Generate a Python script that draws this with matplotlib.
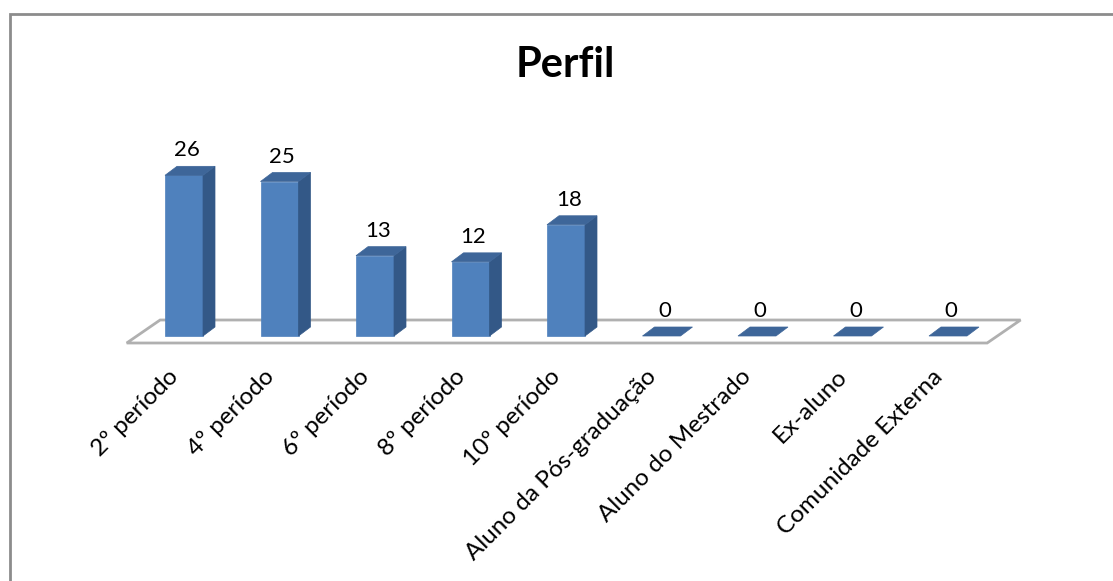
import matplotlib
matplotlib.use("Agg")
import matplotlib.pyplot as plt
from matplotlib.patches import Polygon, Rectangle

plt.rcParams["font.family"] = ["Lato", "DejaVu Sans"]

# data
categories = [
    "2º período",
    "4º período",
    "6º período",
    "8º período",
    "10º período",
    "Aluno da Pós-graduação",
    "Aluno do Mestrado",
    "Ex-aluno",
    "Comunidade Externa",
]
values = [26, 25, 13, 12, 18, 0, 0, 0, 0]
title = "Perfil"

# pixel scale of the reference (category step, value unit)
W, H = 1113, 581
X0_PX, STEP_PX = 184.0, 95.5
Y0_PX, UNIT_PX = 336.0, 6.18

FRONT = "#4F81BD"
SIDE = "#335887"
TOP = "#3E6699"
FLOOR_EDGE = "#B0B0B0"

fig = plt.figure(figsize=(W / 100, H / 100), dpi=100)
ax = fig.add_axes([0, 0, 1, 1])
ax.set_xlim(-X0_PX / STEP_PX, (W - X0_PX) / STEP_PX)
ax.set_ylim((Y0_PX - H) / UNIT_PX, Y0_PX / UNIT_PX)
ax.axis("off")

# 3d look: depth offsets in data units
half = 19 / STEP_PX
ddx = 12 / STEP_PX
ddy = 9 / UNIT_PX
n = len(categories)

# floor
f_front, f_back = -7 / UNIT_PX, 16 / UNIT_PX
f_left, f_right = -0.6, n - 1 + 0.41
f_shift = 0.35
ax.add_patch(Polygon(
    [(f_left, f_front), (f_right, f_front),
     (f_right + f_shift, f_back), (f_left + f_shift, f_back)],
    closed=True, facecolor="white", edgecolor=FLOOR_EDGE, linewidth=2, zorder=1))

for i, v in enumerate(values):
    x0, x1 = i - half, i + half
    if v > 0:
        ax.add_patch(Polygon([(x0, 0), (x1, 0), (x1, v), (x0, v)],
                             closed=True, facecolor=FRONT, edgecolor=FRONT,
                             linewidth=0.5, zorder=2))
        ax.add_patch(Polygon([(x1, 0), (x1 + ddx, ddy), (x1 + ddx, v + ddy), (x1, v)],
                             closed=True, facecolor=SIDE, edgecolor=SIDE,
                             linewidth=0.5, zorder=2))
    ax.add_patch(Polygon([(x0, v), (x1, v), (x1 + ddx, v + ddy), (x0 + ddx, v + ddy)],
                         closed=True, facecolor=TOP, edgecolor=TOP,
                         linewidth=0.5, zorder=3))
    ax.text(i + 0.03, v + ddy + 10 / UNIT_PX, str(v), ha="center", va="baseline",
            fontsize=16, color="black", zorder=4)
    ax.text(i - 0.17, -30 / UNIT_PX, categories[i], rotation=45,
            rotation_mode="anchor", ha="right", va="top", fontsize=17.5,
            color="black", zorder=4)

ax.text((565 - X0_PX) / STEP_PX, (Y0_PX - 77) / UNIT_PX, title, ha="center",
        va="baseline", fontsize=30, fontweight="bold", color="black")

# chart area border (top and left visible)
fig.patches.append(Rectangle((10 / W, -0.2), 1.2, 1.2 - 14 / H,
                             transform=fig.transFigure, fill=False,
                             edgecolor="#8C8C8C", linewidth=2))

fig.savefig("out.png", dpi=100, facecolor="white")
